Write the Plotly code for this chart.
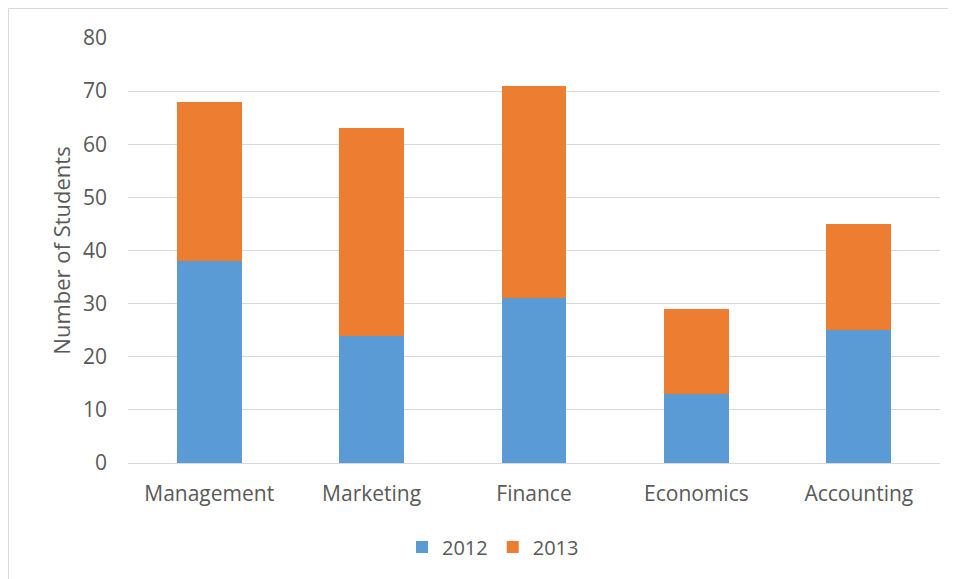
import plotly.graph_objects as go

# data
departments = ["Management", "Marketing", "Finance", "Economics", "Accounting"]
students_2012 = [38, 24, 31, 13, 25]
students_2013 = [30, 39, 40, 16, 20]
y_ticks = [0, 10, 20, 30, 40, 50, 60, 70, 80]

font_family = "'Open Sans', sans-serif"
text_color = "#595959"

# the page body adds an 8px offset, so the figure is sized to fit the window
W, H = 948, 571
L, R, T, B = 120, 16, 30, 116
pw, ph = W - L - R, H - T - B

fig = go.Figure()
fig.add_trace(go.Bar(x=departments, y=students_2012, name="2012",
                     marker=dict(color="#5B9BD5", line=dict(width=0))))
fig.add_trace(go.Bar(x=departments, y=students_2013, name="2013",
                     marker=dict(color="#ED7D31", line=dict(width=0))))

fig.update_layout(
    barmode="stack",
    bargap=0.6,
    width=W, height=H,
    margin=dict(l=L, r=R, t=T, b=B),
    paper_bgcolor="white",
    plot_bgcolor="white",
    font=dict(family=font_family, color=text_color, size=20),
    xaxis=dict(showgrid=False, showline=True, linecolor="#D9D9D9",
               tickfont=dict(size=21), ticks="", ticklabelstandoff=12),
    yaxis=dict(range=[0, 80], tickvals=y_ticks, gridcolor="#D9D9D9",
               zeroline=False, showline=False, tickfont=dict(size=21),
               ticklabelstandoff=20,
               title=dict(text="Number of Students", font=dict(size=22), standoff=6)),
    legend=dict(orientation="h", x=(493 - 8 - L) / pw, xanchor="center",
                y=-(547 - 8 - T - ph) / ph, yanchor="middle",
                font=dict(size=20), itemwidth=30, traceorder="normal"),
    shapes=[dict(type="rect", xref="paper", yref="paper",
                 x0=(0.5 - L) / pw, x1=(W + 20 - L) / pw,
                 y0=-(H + 20 - T - ph) / ph, y1=(H - 0.5 - B) / ph,
                 line=dict(color="#D9D9D9", width=1))],
)

fig.write_html("out.html")
